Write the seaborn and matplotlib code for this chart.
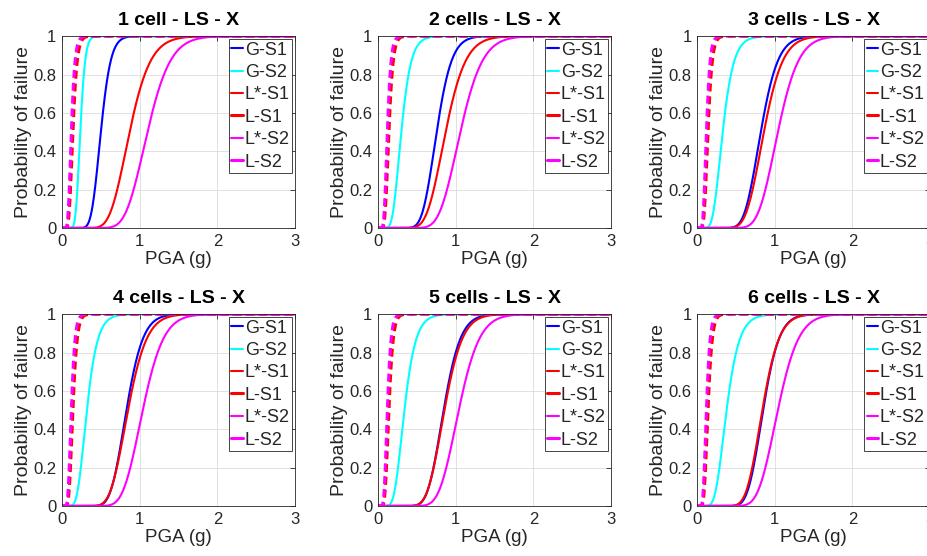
import math
import numpy as np
import pandas as pd
import matplotlib
matplotlib.use("Agg")
import matplotlib.pyplot as plt
import seaborn as sns

# ==================== DATA ====================
panel_titles = ["1 cell - LS - X", "2 cells - LS - X", "3 cells - LS - X",
                "4 cells - LS - X", "5 cells - LS - X", "6 cells - LS - X"]
curve_labels = ["G-S1", "G-S2", "L*-S1", "L-S1", "L*-S2", "L-S2"]

# lognormal fragility parameters (median PGA in g, dispersion)
median_pga = [
    [0.50, 0.235, 0.87, 0.14, 1.10, 0.12],
    [0.755, 0.30, 0.87, 0.14, 1.06, 0.12],
    [0.82, 0.33, 0.86, 0.14, 1.04, 0.12],
    [0.83, 0.32, 0.85, 0.14, 1.04, 0.12],
    [0.845, 0.34, 0.855, 0.14, 1.04, 0.12],
    [0.85, 0.38, 0.84, 0.14, 1.04, 0.12],
]
dispersion = [
    [0.20, 0.21, 0.24, 0.30, 0.21, 0.30],
    [0.20, 0.32, 0.23, 0.30, 0.21, 0.30],
    [0.21, 0.33, 0.22, 0.30, 0.20, 0.30],
    [0.20, 0.33, 0.22, 0.30, 0.20, 0.30],
    [0.20, 0.33, 0.21, 0.30, 0.20, 0.30],
    [0.19, 0.33, 0.20, 0.30, 0.20, 0.30],
]
pga_grid = np.linspace(0.001, 3, 1500)

# ==================== STYLE ====================
sns.set_theme(style="white")
plt.rcParams['font.family'] = ['Liberation Sans', 'DejaVu Sans']

curve_colors = ["#0000ff", "#00ffff", "#ff0000", "#ff0000", "#ff00ff", "#ff00ff"]
curve_dashed = [False, False, False, True, False, True]
curve_widths = [1.5, 1.5, 1.5, 2.2, 1.5, 2.2]
axis_grey = "#262626"

erf = np.vectorize(math.erf)


def fragility(x, theta, beta):
    """Lognormal CDF"""
    return 0.5 * (1 + erf(np.log(x / theta) / (beta * math.sqrt(2))))


rows = []
for p, title in enumerate(panel_titles):
    for c, label in enumerate(curve_labels):
        prob = fragility(pga_grid, median_pga[p][c], dispersion[p][c])
        rows.append(pd.DataFrame({'panel': title, 'curve': label,
                                  'PGA': pga_grid, 'Pf': prob}))
df = pd.concat(rows, ignore_index=True)

fig = plt.figure(figsize=(9.27, 5.56), dpi=100)
col_left = [0.0669, 0.4078, 0.752]
row_bottom = [0.59, 0.09]
ax_w, ax_h = 0.2514, 0.345

for p, title in enumerate(panel_titles):
    ax = fig.add_axes([col_left[p % 3], row_bottom[p // 3], ax_w, ax_h])
    sub = df[df['panel'] == title]
    for c, label in enumerate(curve_labels):
        d = sub[sub['curve'] == label]
        line_kw = dict(dashes=(2.6, 1.6)) if curve_dashed[c] else dict(linestyle='-')
        sns.lineplot(data=d, x='PGA', y='Pf', ax=ax, color=curve_colors[c],
                     linewidth=curve_widths[c], label=label,
                     estimator=None, sort=False, **line_kw)
    ax.set_xlim(0, 3)
    ax.set_ylim(0, 1)
    ax.set_xticks([0, 1, 2, 3])
    ax.set_yticks([0, 0.2, 0.4, 0.6, 0.8, 1])
    ax.set_yticklabels(['0', '0.2', '0.4', '0.6', '0.8', '1'])
    ax.grid(True, color='#dcdcdc', linewidth=0.6)
    ax.tick_params(direction='in', length=3.5, width=0.6, top=True, right=True,
                   labelsize=12, colors=axis_grey, pad=4)
    for s in ax.spines.values():
        s.set_color(axis_grey)
        s.set_linewidth(0.6)
    ax.set_xlabel('PGA (g)', fontsize=13.5, color=axis_grey, labelpad=2)
    ax.set_ylabel('Probability of failure', fontsize=14, color=axis_grey, labelpad=1)
    ax.set_title(title, fontsize=14, fontweight='bold', color='black', pad=8)
    leg = ax.legend(loc='upper right', fontsize=13, frameon=True, fancybox=False,
                    borderaxespad=0.15, handlelength=0.65, handletextpad=0.08,
                    labelspacing=0.3, borderpad=0.15)
    # short legend segments show as solid strokes
    for h in leg.get_lines():
        h.set_linestyle('-')
    leg.get_frame().set_edgecolor(axis_grey)
    leg.get_frame().set_linewidth(0.6)
    leg.get_frame().set_alpha(1)

plt.savefig('out.png', dpi=100)
print("Saved: out.png")
